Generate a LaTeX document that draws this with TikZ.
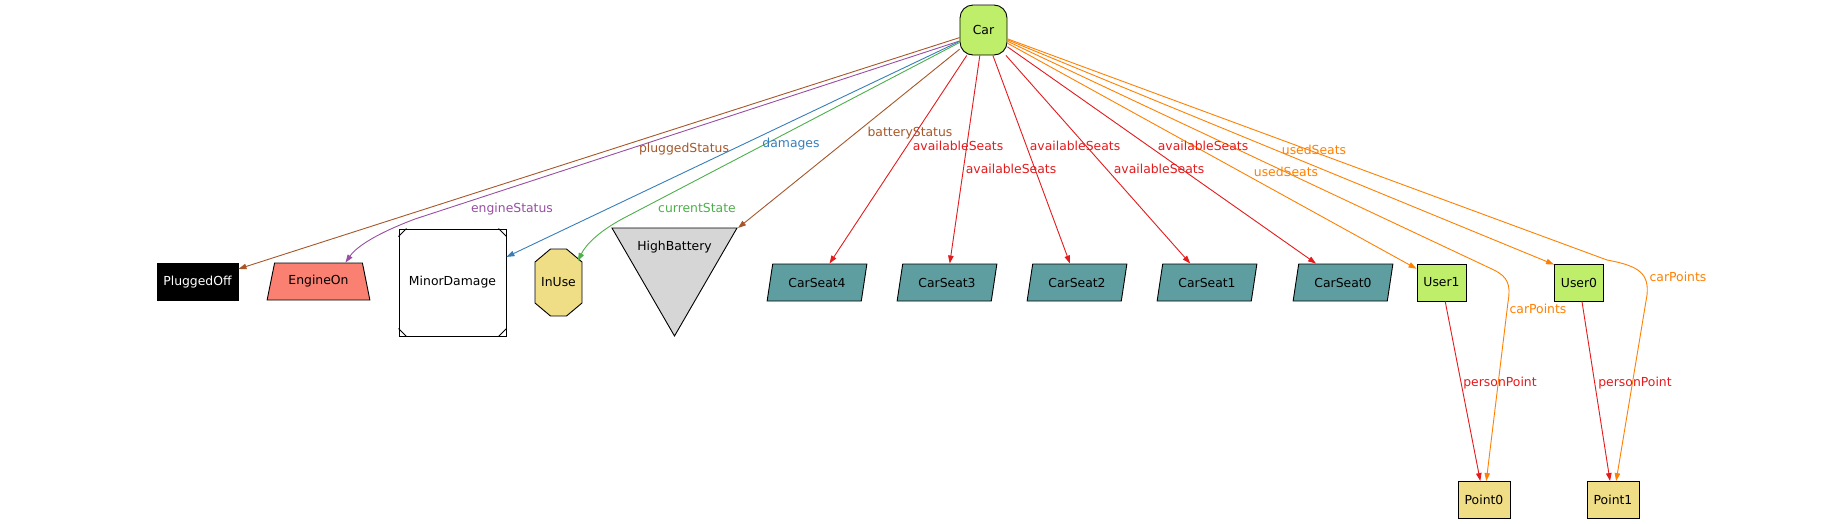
\documentclass[tikz,border=0pt]{standalone}
\usepackage{fontspec}
\setmainfont{DejaVu Sans}
\usepackage{tikz}
\usetikzlibrary{arrows.meta, shapes.geometric, calc}
\definecolor{carGreen}{HTML}{BFEE6A}
\definecolor{seatTeal}{HTML}{5F9EA0}
\definecolor{engineSalmon}{HTML}{FA8072}
\definecolor{batteryGray}{HTML}{D6D6D6}
\definecolor{pointGold}{HTML}{EFDE86}
\definecolor{edgeRed}{HTML}{E41A1C}
\definecolor{edgeBlue}{HTML}{377EB8}
\definecolor{edgeGreen}{HTML}{4DAF4A}
\definecolor{edgePurple}{HTML}{984EA3}
\definecolor{edgeOrange}{HTML}{FF7F00}
\definecolor{edgeBrown}{HTML}{A65628}
\newcommand{\gvfont}{\fontsize{12.4}{14}\selectfont}
\tikzset{
  classnode/.style = {draw, line width=0.9pt, font=\gvfont, inner sep=0pt,
                      minimum height=37pt},
  carnode/.style   = {classnode, rounded corners=13pt, fill=carGreen,
                      minimum width=47pt, minimum height=50pt},
  usernode/.style  = {classnode, fill=carGreen, minimum width=49pt},
  pointnode/.style = {classnode, fill=pointGold, minimum width=52pt},
  seatnode/.style  = {classnode, fill=seatTeal, trapezium,
                      trapezium left angle=69, trapezium right angle=111,
                      trapezium stretches=true, minimum width=100pt},
  statenode/.style = {font=\gvfont, inner sep=0pt},
  shapeline/.style = {line width=0.9pt, line join=miter},
  rel/.style       = {line width=0.9pt, -{Triangle[length=8pt, width=5.5pt]}},
  rellabel/.style  = {font=\gvfont, inner sep=0pt},
}

\begin{document}
\begin{tikzpicture}[x=1pt, y=-1pt]
  \useasboundingbox (0,0) rectangle (1829,523);

  % --- root ----------------------------------------------------------------
  \node[carnode] (car) at (983.5,30) {Car};

  % --- status objects ------------------------------------------------------
  \node[classnode, fill=black, text=white, minimum width=81pt]
    (plugged) at (197.5,282) {PluggedOff};
  \node[classnode, fill=engineSalmon, trapezium, trapezium angle=67,
        trapezium stretches=true, minimum width=103pt]
    (engine) at (318.5,281.5) {EngineOn};

  \node[classnode, fill=white, minimum width=107pt, minimum height=107pt]
    (minor) at (452.5,282.5) {MinorDamage};
  \foreach \c/\dx/\dy in {north west/1/1, north east/-1/1,
                          south west/1/-1, south east/-1/-1}
    \draw[line width=0.9pt] (minor.\c) ++(\dx*8,0) -- ++(-\dx*8,\dy*8);

  % octagon
  \draw[shapeline, fill=pointGold]
    (550.5,249) -- (566.5,249) -- (582,262) -- (582,303) -- (566.5,316)
    -- (550.5,316) -- (535,303) -- (535,262) -- cycle;
  \node[statenode] (inuse) at (558.5,282.5) {InUse};

  % inverted triangle
  \draw[shapeline, fill=batteryGray] (612,228) -- (737,228) -- (674.5,336) -- cycle;
  \node[statenode] (hbatt) at (674.5,247) {HighBattery};

  % --- seats, users, points ------------------------------------------------
  \node[seatnode] (seat4) at (817,282.5)  {CarSeat4};
  \node[seatnode] (seat3) at (947,282.5)  {CarSeat3};
  \node[seatnode] (seat2) at (1077,282.5) {CarSeat2};
  \node[seatnode] (seat1) at (1207,282.5) {CarSeat1};
  \node[seatnode] (seat0) at (1343,282.5) {CarSeat0};

  \node[usernode] (user1) at (1441.5,282.5) {User1};
  \node[usernode] (user0) at (1579,282.5)   {User0};

  \node[pointnode] (point0) at (1484,500) {Point0};
  \node[pointnode] (point1) at (1613,500) {Point1};

  \coordinate (inuseTip) at (578,261);
  \coordinate (hbattTip) at (738,228);

  % --- edges ---------------------------------------------------------------
  \draw[rel, edgeBrown] (car) -- (plugged);
  \draw[rel, edgePurple] ([yshift=-11pt]car.west) -- (415,219)
    .. controls (378,233) and (357,246) .. ([xshift=27pt]engine.north);
  \draw[rel, edgeBlue] (car) -- (minor);
  \draw[rel, edgeGreen] (car) -- (622,219)
    .. controls (600,231) and (586,244) .. (inuseTip);
  \draw[rel, edgeBrown] (car) -- (hbattTip);

  \foreach \s in {0,...,4}
    \draw[rel, edgeRed] (car) -- (seat\s);

  \draw[rel, edgeOrange] (car) -- (user1);
  \draw[rel, edgeOrange] (car) -- ([yshift=-1pt]user0.north west);

  \draw[rel, edgeOrange] (car) -- (1494,270)
    .. controls (1508,277) and (1511,285) .. (1508,302) -- (point0);
  \draw[rel, edgeOrange] (car) -- (1607,260)
    .. controls (1640,266) and (1649,274) .. (1647,295) -- (point1);

  \draw[rel, edgeRed] (user1) -- (point0);
  \draw[rel, edgeRed] (user0) -- (point1);

  % --- edge labels ---------------------------------------------------------
  \node[rellabel, text=edgeBrown]  (lplugged) at (684,149) {pluggedStatus};
  \node[rellabel, text=edgePurple] (lengine)  at (512,209) {engineStatus};
  \node[rellabel, text=edgeBlue]   (ldamage)  at (791,144) {damages};
  \node[rellabel, text=edgeGreen]  (lstate)   at (697,208) {currentState};
  \node[rellabel, text=edgeBrown]  (lbatt)    at (910,133) {batteryStatus};

  \foreach \x/\y [count=\i] in {958/146, 1011/169, 1075/146, 1159/169, 1203/146}
    \node[rellabel, text=edgeRed] (lseat\i) at (\x,\y) {availableSeats};

  \node[rellabel, text=edgeOrange] (lused0)  at (1314,150) {usedSeats};
  \node[rellabel, text=edgeOrange] (lused1)  at (1286,172) {usedSeats};
  \node[rellabel, text=edgeOrange] (lpts0)   at (1538,309) {carPoints};
  \node[rellabel, text=edgeOrange] (lpts1)   at (1678,277) {carPoints};
  \node[rellabel, text=edgeRed]    (lperson0) at (1500,383) {personPoint};
  \node[rellabel, text=edgeRed]    (lperson1) at (1635,383) {personPoint};

\end{tikzpicture}
\end{document}
